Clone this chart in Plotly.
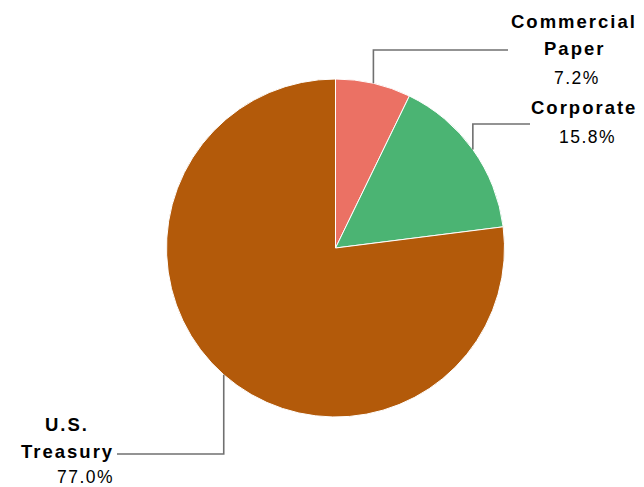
import math
import plotly.graph_objects as go

# ---- data ----
categories = ["Commercial Paper", "Corporate", "U.S. Treasury"]
values = [7.2, 15.8, 77.0]
name_lines = [["Commercial", "Paper"], ["Corporate"], ["U.S.", "Treasury"]]
colors = ["#EB7164", "#4BB473", "#B35A0A"]

# ---- layout constants (pixels) ----
W, H = 644, 487
CX, CY, R = 335.5, 248.0, 169.0
name_y = [[21, 49], [108], [424, 451.5]]
name_x = [574, 584, 67]
pct_y = [78, 136.5, 476.5]
pct_x = [577, 587, 85]
elbow_y = [50, 124, 454]
end_x = [508, 530, 117]

def px(x):
    return x / W

def py(y):
    return 1 - y / H

fig = go.Figure(go.Pie(
    labels=categories,
    values=values,
    sort=False,
    direction="clockwise",
    rotation=0,
    marker=dict(colors=colors, line=dict(color="white", width=1)),
    textinfo="none",
    hoverinfo="label+percent",
    showlegend=False,
    domain=dict(x=[px(CX - R), px(CX + R)], y=[py(CY + R), py(CY - R)]),
))

total = sum(values)
cum = 0.0
shapes = []
annotations = []
for i, v in enumerate(values):
    mid = (cum + v / 2) / total * 2 * math.pi
    cum += v
    ex = CX + R * math.sin(mid)
    ey = CY - R * math.cos(mid)
    path = "M {} {} L {} {} L {} {}".format(
        px(ex), py(ey), px(ex), py(elbow_y[i]), px(end_x[i]), py(elbow_y[i]))
    shapes.append(dict(type="path", path=path, xref="paper", yref="paper",
                       line=dict(color="#707070", width=1.6)))
    for line, ly in zip(name_lines[i], name_y[i]):
        annotations.append(dict(
            text='<span style="letter-spacing:2px">{}</span>'.format(line),
            x=px(name_x[i]), y=py(ly), xref="paper", yref="paper",
            xanchor="center", yanchor="middle", showarrow=False,
            font=dict(family="Liberation Sans, Arial", size=18.5, color="black", weight="bold")))
    annotations.append(dict(
        text='<span style="letter-spacing:1.5px">{:.1f}%</span>'.format(v / total * 100),
        x=px(pct_x[i]), y=py(pct_y[i]), xref="paper", yref="paper",
        xanchor="center", yanchor="middle", showarrow=False,
        font=dict(family="Liberation Sans, Arial", size=17.5, color="black")))

fig.update_layout(
    width=W, height=H,
    margin=dict(l=0, r=0, t=0, b=0),
    paper_bgcolor="white", plot_bgcolor="white",
    shapes=shapes, annotations=annotations,
)

fig.write_html("out.html", config={"displayModeBar": False},
               post_script="document.body.style.margin='0';")
